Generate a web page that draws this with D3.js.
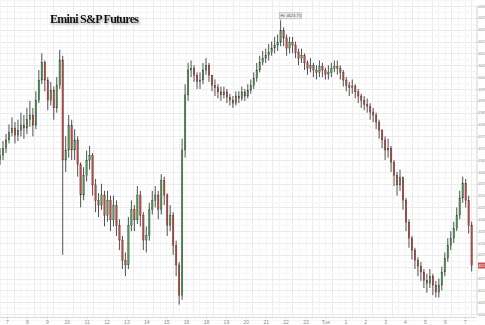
<!DOCTYPE html>
<html>
<head>
<meta charset="utf-8">
<script src="https://cdn.jsdelivr.net/npm/d3@7"></script>
<style>
  body { margin: 0; background: #fff; }
  svg { display: block; }
</style>
</head>
<body>
<div id="chart"></div>
<script>
// hour labels on the time axis (the closed 17:00 hour is skipped)
let hourLabels = ["7", "8", "9", "10", "11", "12", "13", "14", "15", "16", "18", "19",
    "20", "21", "22", "23", "Tue", "1", "2", "3", "4", "5", "6", "7"]

// price ticks on the right axis
let priceTicks = d3.range(4500, 4631, 5)

// 9-minute bars, first one at 6:39
let closes = [
    4567, 4570, 4573.5, 4576.5, 4578.5, 4575.5, 4577.5, 4579.75, 4578.5, 4582,
    4584, 4579.75, 4590.25, 4598.75, 4606.25, 4598.75, 4590.25, 4594.5, 4587, 4596.5,
    4607.25, 4565, 4569.25, 4579.75, 4569.25, 4573.5, 4563, 4550.25, 4558.5, 4565,
    4567, 4554.5, 4548, 4546, 4550.25, 4541.75, 4548, 4539.75, 4546, 4537.5,
    4531.25, 4522.75, 4520.75, 4537.5, 4544, 4539.75, 4550.25, 4541.75, 4531.25, 4533.25,
    4544, 4548, 4550.25, 4544, 4556.5, 4550.25, 4537.5, 4541.75, 4529, 4520.75,
    4508, 4569.25, 4592.5, 4603, 4603.75, 4600.75, 4598, 4598.75, 4603, 4605,
    4600.75, 4596.5, 4595.5, 4593.75, 4592.5, 4593.75, 4591.5, 4590.25, 4589, 4592,
    4591, 4593.75, 4592, 4594.5, 4596.5, 4599.5, 4603, 4606.25, 4608, 4609.25,
    4610.5, 4612.25, 4613.5, 4614.75, 4619.75, 4616.5, 4612.25, 4614.75, 4613.5, 4610.5,
    4608, 4609.25, 4606, 4603.75, 4605, 4603, 4602, 4604.5, 4603, 4601.25,
    4602, 4603.75, 4604.5, 4603.75, 4602, 4598.75, 4596.5, 4595.5, 4596.25, 4593.75,
    4592, 4590.25, 4588.5, 4587.75, 4585.25, 4584, 4581, 4577.5, 4573.5, 4569.25,
    4570, 4564, 4558.5, 4554.5, 4557.5, 4548, 4538.75, 4532, 4527, 4522.75,
    4520.25, 4517.75, 4514.25, 4513, 4516, 4512.25, 4509.25, 4512.25, 4517.75, 4523.5,
    4529, 4532, 4536.25, 4541.75, 4549, 4555.25, 4548, 4537.5, 4520.5
]
let highs = [
    4570, 4573, 4576, 4580, 4583, 4581, 4582, 4585, 4584, 4587,
    4590, 4587, 4594, 4603, 4610, 4607, 4600, 4598, 4596, 4600,
    4611.5, 4609, 4575, 4584, 4582, 4578, 4575, 4564, 4562, 4569,
    4571, 4568, 4557, 4551, 4555, 4552, 4552, 4550, 4550, 4548,
    4540, 4533, 4526, 4541, 4548, 4546, 4554, 4552, 4543, 4537,
    4547, 4552, 4554, 4552, 4559, 4558, 4551, 4546, 4543, 4531,
    4522, 4574, 4597, 4606, 4607, 4605, 4602, 4602, 4606, 4608,
    4606, 4601, 4599, 4597, 4596, 4596, 4595, 4593, 4592, 4594,
    4594, 4596, 4595, 4597, 4599, 4602, 4606, 4609, 4611, 4612,
    4614, 4615, 4617, 4618, 4623.75, 4621, 4618, 4617, 4617, 4615,
    4612, 4612, 4610, 4607, 4608, 4606, 4605, 4607, 4606, 4604,
    4605, 4606, 4607, 4607, 4605, 4603, 4600, 4598, 4599, 4597,
    4595, 4593, 4592, 4591, 4589, 4587, 4585, 4582, 4578, 4575,
    4574, 4571, 4565, 4560, 4561, 4558, 4549, 4540, 4533, 4528,
    4524, 4522, 4519, 4517, 4519, 4517, 4514, 4515, 4520, 4526,
    4532, 4535, 4539, 4545, 4552, 4558, 4557, 4550, 4539
]
let lows = [
    4563, 4565, 4568, 4572, 4575, 4572, 4573, 4575, 4574, 4576,
    4579, 4575, 4578, 4589, 4597, 4594, 4586, 4588, 4582, 4585,
    4595, 4525, 4560, 4566, 4565, 4565, 4558, 4545, 4548, 4556,
    4561, 4550, 4543, 4541, 4544, 4537, 4539, 4535, 4537, 4533,
    4527, 4519, 4516, 4519, 4535, 4535, 4538, 4537, 4527, 4526,
    4531, 4542, 4545, 4540, 4542, 4546, 4533, 4535, 4525, 4516,
    4504, 4506, 4566, 4590, 4600, 4598, 4595, 4595, 4597, 4601,
    4598, 4594, 4592, 4591, 4590, 4591, 4589, 4588, 4587, 4588,
    4589, 4590, 4590, 4591, 4593, 4595, 4598, 4602, 4605, 4606,
    4607, 4609, 4610, 4611, 4613, 4613, 4609, 4610, 4610, 4608,
    4605, 4606, 4603, 4601, 4602, 4600, 4599, 4600, 4600, 4599,
    4599, 4600, 4602, 4601, 4599, 4596, 4594, 4592, 4593, 4591,
    4589, 4587, 4586, 4585, 4582, 4581, 4578, 4574, 4570, 4565,
    4566, 4560, 4554, 4550, 4552, 4544, 4535, 4528, 4523, 4519,
    4516, 4514, 4511, 4509, 4511, 4508, 4507, 4507, 4510, 4516,
    4522, 4527, 4530, 4535, 4540, 4547, 4545, 4534, 4518
]
let firstOpen = 4565
let titleText = "Emini S&P Futures"

let width = 485, height = 325
let barStart = -0.35, barStep = 0.15   // in trading hours after 7:00

let svg = d3.select("#chart").append("svg")
    .attr("width", width)
    .attr("height", height)

let x = d3.scaleLinear().domain([0, 23]).range([7, 464.7])
let y = d3.scaleLinear().domain([4500, 4630]).range([314.1, 6])

let plotRight = 476.5, plotBottom = 317

let bars = closes.map(function (c, i) {
    return {
        t: barStart + i * barStep,
        open: i === 0 ? firstOpen : closes[i - 1],
        close: c,
        high: highs[i],
        low: lows[i]
    }
})
let last = bars[bars.length - 1]

// shadow for the title
let defs = svg.append("defs")
defs.append("filter").attr("id", "shadow")
    .attr("x", "-10%").attr("y", "-40%").attr("width", "120%").attr("height", "180%")
    .append("feDropShadow")
    .attr("dx", 1).attr("dy", 1.5).attr("stdDeviation", 1.2)
    .attr("flood-color", "#777").attr("flood-opacity", 0.7)

// faint grid
let grid = svg.append("g")
grid.selectAll(".vminor")
    .data(d3.range(-1, 71).map(function (k) { return k / 3 }))
    .enter().append("line")
    .attr("x1", function (d) { return Math.round(x(d)) + 0.5 })
    .attr("x2", function (d) { return Math.round(x(d)) + 0.5 })
    .attr("y1", 0).attr("y2", plotBottom)
    .attr("stroke", function (d, i) { return (i + 1) % 3 === 0 ? "#ececec" : "#f5f5f5" })
    .attr("stroke-width", 1)

grid.selectAll(".hminor")
    .data(d3.range(4497.5, 4633, 2.5))
    .enter().append("line")
    .attr("x1", 0).attr("x2", plotRight)
    .attr("y1", function (d) { return Math.round(y(d)) + 0.5 })
    .attr("y2", function (d) { return Math.round(y(d)) + 0.5 })
    .attr("stroke", function (d) { return d % 5 === 0 ? "#ececec" : "#f5f5f5" })
    .attr("stroke-width", 1)

// right axis
let yAxis = d3.axisRight(y)
    .tickValues(priceTicks.filter(function (p) { return Math.abs(y(p) - y(last.close)) > 5 }))
    .tickSize(1.5)
    .tickFormat(d3.format("d"))
let yg = svg.append("g")
    .attr("transform", "translate(" + plotRight + ",0)")
    .call(yAxis)
yg.select(".domain").attr("stroke", "#d4d4d4")
yg.selectAll(".tick line").attr("stroke", "#d4d4d4")
yg.selectAll(".tick text")
    .attr("x", 1.8)
    .attr("fill", "#8a8a8a")
    .style("font-family", "'Liberation Sans Narrow', Arial, sans-serif")
    .style("font-size", "3.5px")

// bottom axis
let xAxis = d3.axisBottom(x).tickValues(d3.range(hourLabels.length)).tickSize(2)
    .tickFormat(function (d, i) { return hourLabels[i] })
let xg = svg.append("g")
    .attr("transform", "translate(0," + plotBottom + ")")
    .call(xAxis)
xg.select(".domain").attr("stroke", "#dcdcdc").attr("d", "M0,0.5H" + plotRight)
xg.selectAll(".tick line").attr("stroke", "#d4d4d4")
xg.selectAll(".tick text")
    .attr("y", 3)
    .attr("fill", "#8a8a8a")
    .style("font-family", "Arial, 'Liberation Sans', sans-serif")
    .style("font-size", "5px")

// candles
let candles = svg.append("g")
candles.selectAll(".wick")
    .data(bars)
    .enter().append("line")
    .attr("x1", function (d) { return x(d.t) })
    .attr("x2", function (d) { return x(d.t) })
    .attr("y1", function (d) { return y(d.high) })
    .attr("y2", function (d) { return y(d.low) })
    .attr("stroke", "#262626")
    .attr("stroke-width", 0.8)

candles.selectAll(".body")
    .data(bars)
    .enter().append("rect")
    .attr("x", function (d) { return x(d.t) - 0.75 })
    .attr("width", 1.5)
    .attr("y", function (d) { return y(Math.max(d.open, d.close)) })
    .attr("height", function (d) { return Math.max(0.8, Math.abs(y(d.open) - y(d.close))) })
    .attr("fill", function (d) { return d.close >= d.open ? "#4a9d4f" : "#c8453f" })
    .attr("stroke", "#333")
    .attr("stroke-width", 0.3)

// high annotation
let hiBar = bars[d3.maxIndex(bars, function (d) { return d.high })]
let hx = x(hiBar.t), hy = y(hiBar.high)
svg.append("line")
    .attr("x1", hx).attr("x2", hx)
    .attr("y1", hy - 2).attr("y2", hy)
    .attr("stroke", "#777").attr("stroke-width", 0.6)
svg.append("rect")
    .attr("x", hx - 1).attr("y", hy - 8)
    .attr("width", 22).attr("height", 6)
    .attr("fill", "#ececec").attr("stroke", "#9a9a9a").attr("stroke-width", 0.5)
svg.append("text")
    .attr("x", hx + 10).attr("y", hy - 3.6)
    .attr("text-anchor", "middle")
    .attr("fill", "#555")
    .style("font-family", "Arial, 'Liberation Sans', sans-serif")
    .style("font-size", "4px")
    .text("Hi: " + d3.format(".2f")(hiBar.high))

// last price tag
let ly = y(last.close)
svg.append("rect")
    .attr("x", plotRight + 1.5).attr("y", ly - 3)
    .attr("width", 8).attr("height", 6)
    .attr("fill", "#c9524e")
svg.append("text")
    .attr("x", plotRight + 1.8).attr("y", ly + 1.3)
    .attr("fill", "#fff")
    .style("font-family", "'Liberation Sans Narrow', Arial, sans-serif")
    .style("font-size", "3.5px")
    .text(d3.format("d")(last.close))

// title
svg.append("text")
    .attr("x", 50).attr("y", 23)
    .attr("fill", "#111")
    .attr("filter", "url(#shadow)")
    .style("font-family", "'Liberation Serif', 'Times New Roman', serif")
    .style("font-weight", "bold")
    .style("font-size", "12px")
    .attr("textLength", 89)
    .text(titleText)
</script>
</body>
</html>
